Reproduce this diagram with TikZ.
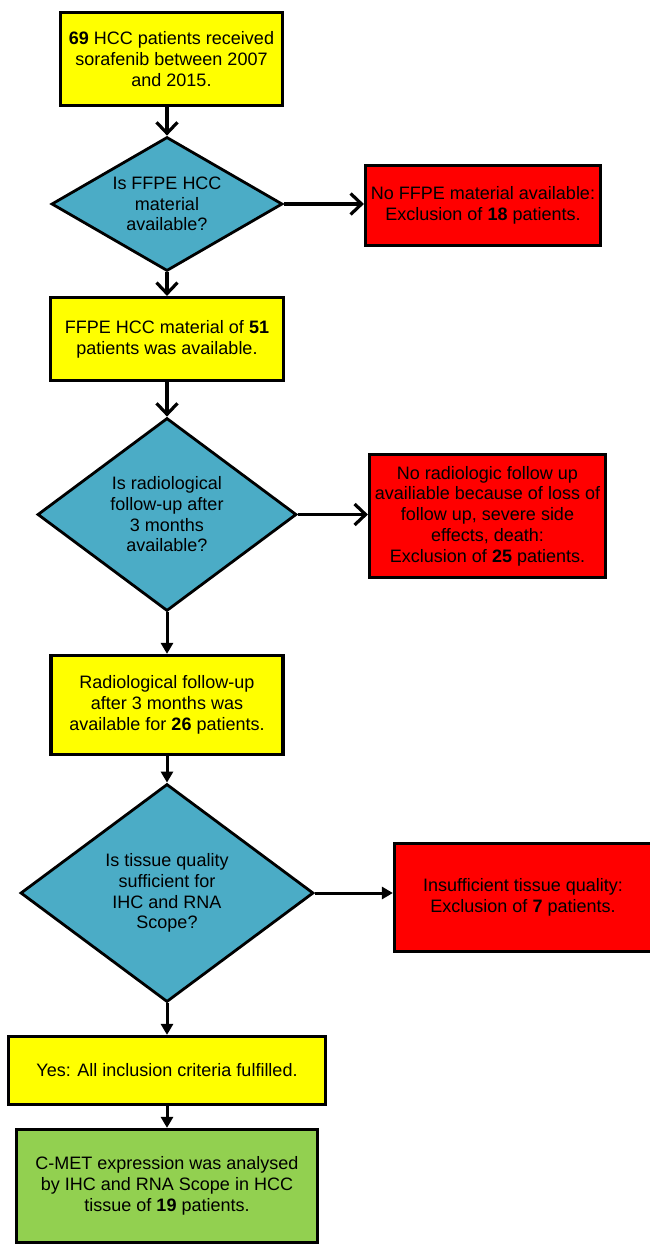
\documentclass[tikz,border=0pt]{standalone}
\usepackage{fontspec}
\setmainfont{Liberation Sans}
\usetikzlibrary{shapes.geometric,arrows.meta}
\definecolor{boxyellow}{HTML}{FFFF00}
\definecolor{qblue}{HTML}{4BACC6}
\definecolor{exred}{HTML}{FF0000}
\definecolor{resgreen}{HTML}{92D050}
\tikzset{
  flowbox/.style={draw=black, line width=3.2pt, rectangle, inner sep=0pt, align=center, font=\fontsize{18}{20.7}\selectfont},
  stepbox/.style={flowbox, fill=boxyellow},
  exclbox/.style={flowbox, fill=exred},
  resbox/.style={flowbox, fill=resgreen},
  question/.style={flowbox, diamond, fill=qblue, line width=2.8pt},
  bigarr/.style={line width=3.2pt, -{Straight Barb[length=11pt,width=21pt,line width=3.2pt]}},
  smallarr/.style={line width=3pt, -{Triangle[length=11pt,width=12pt]}}
}
\begin{document}
\begin{tikzpicture}[x=1pt, y=-1pt]
    \useasboundingbox (0,0) rectangle (649,1246);

    \node[stepbox, minimum width=222pt, minimum height=93pt] (start) at (171.5,59) {\textbf{69} HCC patients received\\sorafenib between 2007\\and 2015.};
    \node[question, minimum width=231pt, minimum height=134pt, shape aspect=1.7] (qffpe) at (167,204) {Is FFPE HCC\\material\\available?};
    \node[exclbox, minimum width=235pt, minimum height=80pt] (noffpe) at (483,205.5) {No FFPE material available:\\Exclusion of \textbf{18} patients.};
    \node[stepbox, minimum width=233pt, minimum height=83pt] (ffpe) at (167,339) {FFPE HCC material of \textbf{51}\\patients was available.};
    \node[question, minimum width=259pt, minimum height=193pt, shape aspect=1.34] (qradio) at (167,514.5) {Is radiological\\follow-up after\\3 months\\available?};
    \node[exclbox, minimum width=236pt, minimum height=123pt] (noradio) at (487.5,516) {No radiologic follow up\\availiable because of loss of\\follow up, severe side\\effects, death:\\Exclusion of \textbf{25} patients.};
    \node[stepbox, minimum width=232pt, minimum height=99pt] (radio) at (167,705) {Radiological follow-up\\after 3 months was\\available for \textbf{26} patients.};
    \node[question, minimum width=293pt, minimum height=218pt, shape aspect=1.34] (qtissue) at (167,893) {Is tissue quality\\sufficient for\\IHC and RNA\\Scope?};
    \node[exclbox, minimum width=257pt, minimum height=108pt] (notissue) at (523,897.5) {Insufficient tissue quality:\\Exclusion of \textbf{7} patients.};
    \node[stepbox, minimum width=317pt, minimum height=68pt] (incl) at (167,1070.5) {Yes: All inclusion criteria fulfilled.};
    \node[resbox, minimum width=301pt, minimum height=113pt] (cmet) at (167,1186) {C-MET expression was analysed\\by IHC and RNA Scope in HCC\\tissue of \textbf{19} patients.};

    \draw[bigarr] (qffpe.north |- start.south) -- (qffpe.north);
    \draw[bigarr] (qffpe.east) -- (qffpe.east -| noffpe.west);
    \draw[bigarr] (qffpe.south) -- (ffpe.north);
    \draw[bigarr] (ffpe.south) -- (qradio.north);
    \draw[bigarr] (qradio.east) -- (qradio.east -| noradio.west);
    \draw[smallarr] (qradio.south) -- (radio.north);
    \draw[smallarr] (radio.south) -- (qtissue.north);
    \draw[smallarr] (qtissue.east) -- (qtissue.east -| notissue.west);
    \draw[smallarr] (qtissue.south) -- (incl.north);
    \draw[smallarr] (incl.south) -- (cmet.north);
  \end{tikzpicture}
\end{document}
